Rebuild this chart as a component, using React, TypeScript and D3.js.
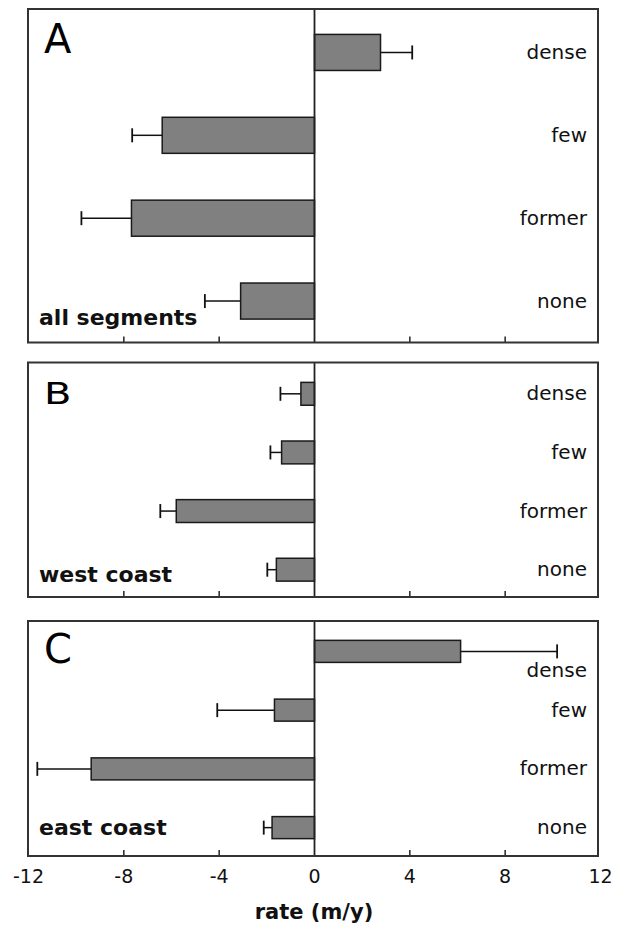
import React from 'react';
import * as d3 from 'd3';

const categories = ['dense', 'few', 'former', 'none'];
const panelLetters = ['A', 'B', 'C'];
const panelNames = ['all segments', 'west coast', 'east coast'];

const allSegmentsRate = [2.77, -6.39, -7.68, -3.1];
const allSegmentsErr = [1.33, 1.26, 2.1, 1.5];
const westCoastRate = [-0.57, -1.38, -5.8, -1.6];
const westCoastErr = [0.86, 0.47, 0.67, 0.38];
const eastCoastRate = [6.13, -1.68, -9.37, -1.78];
const eastCoastErr = [4.05, 2.4, 2.26, 0.35];

const xTicks = [-12, -8, -4, 0, 4, 8, 12];
const xLabel = 'rate (m/y)';

const W = 619;
const H = 928;
const FONT = '"DejaVu Sans", Arial, sans-serif';

const frameLeft = 28;
const frameRight = 598;

const panels = [
  { rate: allSegmentsRate, err: allSegmentsErr, y0: 9, y1: 342.5, b0: 11, b1: 342.5, barFrac: 0.435, letterScale: 1, letterY: 52.5, nameY: 325, denseDy: 0 },
  { rate: westCoastRate, err: westCoastErr, y0: 362.5, y1: 597, b0: 364.5, b1: 599, barFrac: 0.39, letterScale: 0.76, letterY: 404, nameY: 581.5, denseDy: 0 },
  { rate: eastCoastRate, err: eastCoastErr, y0: 621, y1: 856, b0: 622, b1: 857, barFrac: 0.375, letterScale: 1, letterY: 663, nameY: 835, denseDy: 19 },
];

export default function App() {
  const x = d3.scaleLinear().domain([-12, 12]).range([28.5, 600.5]);
  const x0 = x(0);

  return (
    <svg width={W} height={H} style={{ position: 'absolute', left: 0, top: 0, background: '#fff' }}>
      <rect x={0} y={0} width={W} height={H} fill="#fff" />
      {panels.map((p, pi) => {
        const y = d3.scaleBand<string>().domain(categories).range([p.b0, p.b1]).padding(0);
        const bh = y.bandwidth() * p.barFrac;
        return (
          <g key={pi}>
            {categories.map((c, i) => {
              const v = p.rate[i];
              const e = p.err[i];
              const cy = (y(c) as number) + y.bandwidth() / 2;
              const xa = x(Math.min(0, v));
              const xb = x(Math.max(0, v));
              const xe = x(v + (v >= 0 ? e : -e));
              const xs = x(v);
              return (
                <g key={c}>
                  <line x1={xs} x2={xe} y1={cy} y2={cy} stroke="#111" strokeWidth={1.5} />
                  <line x1={xe} x2={xe} y1={cy - 7} y2={cy + 7} stroke="#111" strokeWidth={1.8} />
                  <rect x={xa} y={cy - bh / 2} width={xb - xa} height={bh} fill="#808080" stroke="#1a1a1a" strokeWidth={1.5} />
                  <text
                    x={587}
                    y={cy + 6.5 + (c === 'dense' ? p.denseDy : 0)}
                    textAnchor="end"
                    fontFamily={FONT}
                    fontSize={20}
                    fill="#111"
                  >
                    {c}
                  </text>
                </g>
              );
            })}
            <line x1={x0} x2={x0} y1={p.y0} y2={p.y1} stroke="#222" strokeWidth={1.8} />
            {xTicks.filter((t) => t !== 0 && Math.abs(t) !== 12).map((t) => (
              <line key={t} x1={x(t)} x2={x(t)} y1={p.y1} y2={p.y1 - 6} stroke="#222" strokeWidth={1.5} />
            ))}
            <rect x={frameLeft} y={p.y0} width={frameRight - frameLeft} height={p.y1 - p.y0} fill="none" stroke="#333" strokeWidth={2} />
            <text
              transform={`translate(44,${p.letterY}) scale(1,${p.letterScale})`}
              fontFamily={FONT}
              fontSize={40}
              fill="#000"
            >
              {panelLetters[pi]}
            </text>
            <text x={39} y={p.nameY} fontFamily={FONT} fontSize={22} fontWeight="bold" fill="#111">
              {panelNames[pi]}
            </text>
          </g>
        );
      })}
      {xTicks.map((t) => (
        <text key={t} x={x(t)} y={883} textAnchor="middle" fontFamily={FONT} fontSize={19} fill="#111">
          {t}
        </text>
      ))}
      <text x={314} y={919} textAnchor="middle" fontFamily={FONT} fontSize={21} fontWeight="bold" fill="#111">
        {xLabel}
      </text>
    </svg>
  );
}
